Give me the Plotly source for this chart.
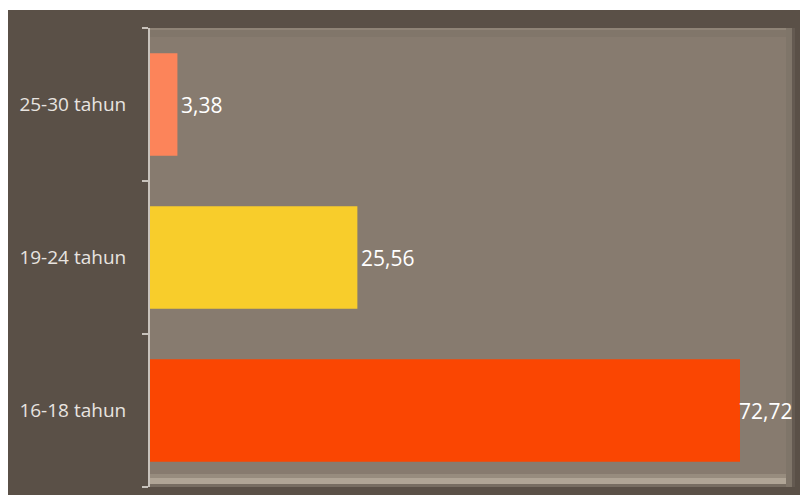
import plotly.graph_objects as go

categories = ["16-18 tahun", "19-24 tahun", "25-30 tahun"]
values = [72.72, 25.56, 3.38]
colors = ["#fa4602", "#f8cd2b", "#fc845a"]

W, H = 800, 495
ML, MR, MT, MB = 150, 5, 28, 8
PW, PH = W - ML - MR, H - MT - MB
XMAX = 79.5
LABEL_MAX_LEFT = 72.3  # labels are kept inside the plot frame

def px_x(p):
    return (p - ML) / PW

def px_y(p):
    return (H - MB - p) / PH

fig = go.Figure()
fig.add_trace(go.Bar(
    y=categories, x=values, orientation="h",
    marker=dict(color=colors, line=dict(width=0)),
    width=0.67,
    hoverinfo="skip",
))

annotations = []
for c, v in zip(categories, values):
    annotations.append(dict(
        x=min(v, LABEL_MAX_LEFT), y=c, xref="x", yref="y",
        text=f"{v:.2f}".replace(".", ","), showarrow=False,
        xanchor="left", yanchor="middle", xshift=2 if v < LABEL_MAX_LEFT else 0,
        font=dict(color="#ffffff", size=21, family="Open Sans"),
    ))

shapes = []
# white strips (top and left edge of image)
shapes.append(dict(type="rect", xref="paper", yref="paper", x0=px_x(0), x1=px_x(W), y0=px_y(10), y1=px_y(-5),
                   fillcolor="#ffffff", line=dict(width=0), layer="above"))
shapes.append(dict(type="rect", xref="paper", yref="paper", x0=px_x(-5), x1=px_x(8), y0=px_y(H + 5), y1=px_y(-5),
                   fillcolor="#ffffff", line=dict(width=0), layer="above"))
# bevel frame (subtle)
bev = [
    (150, 795, 28, 30, "#8f8477"),
    (150, 795, 30, 37, "#81766a"),
    (150, 795, 474, 478, "#978c7e"),
    (150, 795, 478, 484, "#b0a596"),
    (150, 795, 484, 487, "#776d62"),
    (786, 792, 28, 487, "#7f7569"),
    (792, 795, 28, 487, "#645a51"),
]
for x0, x1, y0, y1, col in bev:
    shapes.append(dict(type="rect", xref="paper", yref="paper", x0=px_x(x0), x1=px_x(x1),
                       y0=px_y(y1), y1=px_y(y0), fillcolor=col, line=dict(width=0), layer="below"))

fig.update_layout(
    width=W, height=H,
    margin=dict(l=ML, r=MR, t=MT, b=MB),
    paper_bgcolor="#5a5047",
    plot_bgcolor="#877b6f",
    showlegend=False,
    bargap=0.33,
    shapes=shapes,
    annotations=annotations,
    xaxis=dict(range=[0, XMAX], visible=False, showgrid=False, zeroline=False, fixedrange=True),
    yaxis=dict(
        showline=True, linecolor="#c8c2bb", linewidth=2,
        ticks="outside", ticklen=6, tickcolor="#c8c2bb", tickwidth=1.5,
        tickson="boundaries", showgrid=False,
        tickfont=dict(color="#e8e4e0", size=19, family="Open Sans"),
        ticklabelstandoff=18,
    ),
)

fig.write_html("out.html")
